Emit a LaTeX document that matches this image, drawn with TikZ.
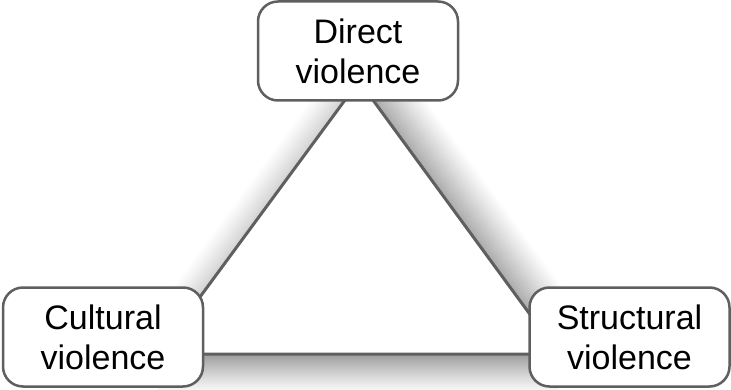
\documentclass[tikz,border=0pt]{standalone}
\usepackage{fontspec}
\setmainfont{Liberation Sans}
\usetikzlibrary{calc}
\definecolor{edgegray}{RGB}{95,95,95}
\tikzset{
  vbox/.style={draw=edgegray, line width=2.5pt, fill=white, rounded corners=20pt,
    minimum width=200pt, minimum height=99pt, inner sep=0pt, align=center,
    font=\fontsize{34}{40}\selectfont},
  side/.style={draw=edgegray, line width=3pt},
  shadowstrip/.style={line width=1.2pt, line cap=butt},
}
\begin{document}
\begin{tikzpicture}[x=1pt, y=-1pt]
  \useasboundingbox (0,0) rectangle (731,390);
  % hidden corners of the triangle (behind the boxes)
  \coordinate (A) at (359,81);
  \coordinate (B) at (158,354);
  \coordinate (C) at (559,354);
  % soft shading outside each side
  \foreach \i in {0,...,42}{
    \pgfmathsetmacro\c{34*(1-\i/43)^1.1}
    \draw[shadowstrip, draw=black!\c]
      ($(A)+(\i*0.807,-\i*0.591)$) -- ($(C)+(\i*0.807,-\i*0.591)$);
  }
  \foreach \i in {0,...,36}{
    \pgfmathsetmacro\c{40*(1-\i/42)^1.2}
    \draw[shadowstrip, draw=black!\c] ($(B)+(0,\i)$) -- ($(C)+(0,\i)$);
  }
  \foreach \i in {0,...,27}{
    \pgfmathsetmacro\c{18*(1-\i/28)^1.1}
    \draw[shadowstrip, draw=black!\c]
      ($(A)+(-\i*0.805,-\i*0.593)$) -- ($(B)+(-\i*0.805,-\i*0.593)$);
  }
  % the three sides
  \draw[side] (A) -- (B) -- (C) -- cycle;
  % the three boxes
  \node[vbox] (direct) at (358,51) {\raisebox{2.5pt}{\parbox{190pt}{\centering Direct\\violence}}};
  \node[vbox] (cultural) at (103,337) {Cultural\\violence};
  \node[vbox] (structural) at (629.5,337) {Structural\\violence};
\end{tikzpicture}
\end{document}
